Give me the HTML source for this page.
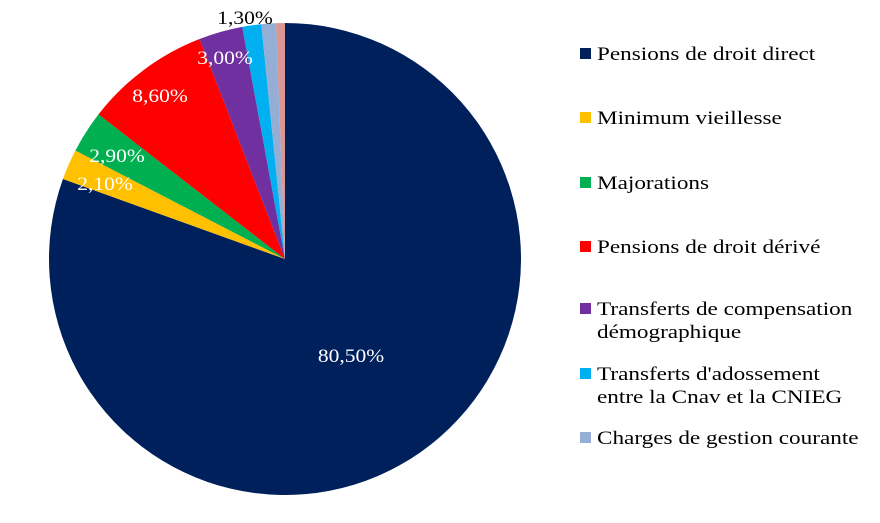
<!DOCTYPE html>
<html><head><meta charset="utf-8"><style>
body{margin:0;background:#fff;width:880px;height:518px;overflow:hidden;font-family:"Liberation Serif",serif}
</style></head><body>
<svg id="chart" width="880" height="518"></svg>
<script>
const categories=["Pensions de droit direct","Minimum vieillesse","Majorations","Pensions de droit dérivé","Transferts de compensation démographique","Transferts d'adossement entre la Cnav et la CNIEG","Charges de gestion courante","Autres"];
const values=[80.5,2.1,2.9,8.6,3.0,1.3,1.0,0.6];
const valueLabels=["80,50%","2,10%","2,90%","8,60%","3,00%","1,30%","",""];
const colors=["#00205B","#FFC000","#00B050","#FF0000","#7030A0","#00B0F0","#95AED6","#D99694"];
const NS="http://www.w3.org/2000/svg";
const svg=document.getElementById('chart');
const cx=285,cy=259,r=236;
const total=values.reduce((a,b)=>a+b,0);
function pt(a,rr){return [cx+rr*Math.sin(a),cy-rr*Math.cos(a)];}
function stretch(t,f){const w=t.getComputedTextLength();t.setAttribute('textLength',w*f);t.setAttribute('lengthAdjust','spacingAndGlyphs');}
let acc=0;
const labelOff=[{x:66,y:96},{x:-180,y:-76},{x:-168,y:-104},{x:-125,y:-164},{x:-60,y:-202},{x:-40,y:-242}];
values.forEach((v,i)=>{
  const a0=acc/total*2*Math.PI;acc+=v;const a1=acc/total*2*Math.PI;
  const p0=pt(a0,r),p1=pt(a1,r);
  const p=document.createElementNS(NS,'path');
  p.setAttribute('d',`M${cx},${cy}L${p0[0]},${p0[1]}A${r},${r} 0 ${a1-a0>Math.PI?1:0} 1 ${p1[0]},${p1[1]}Z`);
  p.setAttribute('fill',colors[i]);
  
  
  svg.appendChild(p);
});
valueLabels.forEach((t,i)=>{
  if(!t)return;
  const o=labelOff[i];
  const tx=document.createElementNS(NS,'text');
  tx.setAttribute('x',cx+o.x);tx.setAttribute('y',cy+o.y+7);
  tx.setAttribute('text-anchor','middle');tx.setAttribute('font-size','19');
  tx.setAttribute('fill',i===5?'#000':'#fff');
  tx.setAttribute('font-family','Liberation Serif, serif');
  tx.textContent=t;
  
  
  svg.appendChild(tx);
  stretch(tx,1.13);
});
const legendRows=[["Pensions de droit direct"],["Minimum vieillesse"],["Majorations"],["Pensions de droit dérivé"],["Transferts de compensation","démographique"],["Transferts d'adossement","entre la Cnav et la CNIEG"],["Charges de gestion courante"]];
const legendY=[54,118,183,247,309,374,438];
legendRows.forEach((lines,i)=>{
  const g=document.createElementNS(NS,'g');
  
  
  const s=document.createElementNS(NS,'rect');
  s.setAttribute('x',580);s.setAttribute('y',legendY[i]-6);s.setAttribute('width',11);s.setAttribute('height',11);
  s.setAttribute('fill',colors[i]);
  g.appendChild(s);
  svg.appendChild(g);
  lines.forEach((l,j)=>{
    const t=document.createElementNS(NS,'text');
    t.setAttribute('x',597);t.setAttribute('y',legendY[i]+6+j*23);
    t.setAttribute('font-size','19');t.setAttribute('fill','#000');
    t.setAttribute('font-family','Liberation Serif, serif');
    t.textContent=l;g.appendChild(t);
    stretch(t,1.22);
  });
});
</script>
</body></html>
